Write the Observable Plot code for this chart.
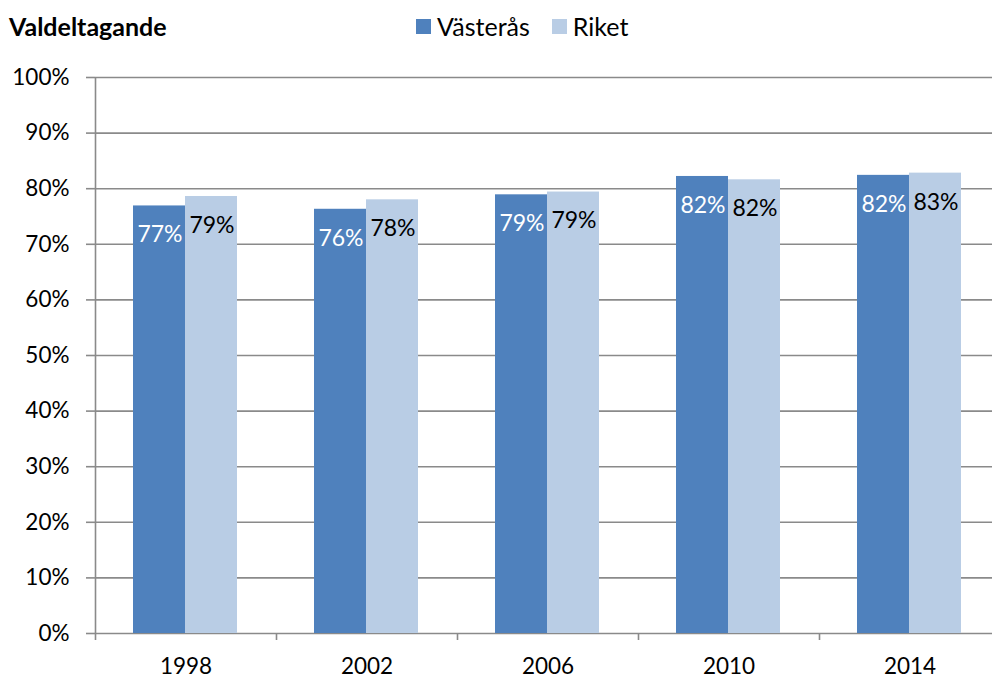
<!DOCTYPE html>
<html><head><meta charset="utf-8">
<script src="https://cdn.jsdelivr.net/npm/d3@7"></script>
<script src="https://cdn.jsdelivr.net/npm/@observablehq/plot@0.6"></script>
<style>
body{margin:0;background:#fff;overflow:hidden;font-family:Lato,sans-serif;color:#000;}
#wrap{position:relative;width:992px;height:678px;overflow:hidden;}
#title{position:absolute;left:9px;top:11px;font-weight:bold;font-size:25px;line-height:30px;}
#legend{position:absolute;left:416px;top:11px;font-size:25px;line-height:30px;display:flex;align-items:center;}
.sw{display:inline-block;width:15px;height:15px;margin-right:6px;}
.item{display:flex;align-items:center;margin-right:22px;}
#chart{position:absolute;left:0;top:60px;}
</style></head><body>
<div id="wrap"><div id="title">Valdeltagande</div><div id="legend"></div><div id="chart"></div></div>
<script>
const years = ["1998", "2002", "2006", "2010", "2014"];
const vasteras = [0.769, 0.763, 0.789, 0.822, 0.824];
const riket = [0.786, 0.780, 0.794, 0.816, 0.828];
const series = ["Västerås", "Riket"];
const colors = ["#4F81BD", "#B9CDE5"];
const yTicks = [0, 0.1, 0.2, 0.3, 0.4, 0.5, 0.6, 0.7, 0.8, 0.9, 1.0];

const dataV = years.map((y, i) => ({year: y, value: vasteras[i]}));
const dataR = years.map((y, i) => ({year: y, value: riket[i]}));

const W = 1000, ML = 95, MR = 0;
const step = (W - ML - MR) / years.length;
const fmt = d3.format(".0%");
const grid = "#8a8a8a";

const legend = document.getElementById("legend");
series.forEach((s, i) => {
  const it = document.createElement("span");
  it.className = "item";
  it.innerHTML = `<span class="sw" style="background:${colors[i]}"></span>${s}`;
  legend.appendChild(it);
});

const chart = Plot.plot({
  width: W,
  height: 618,
  marginTop: 17,
  marginBottom: 45,
  marginLeft: ML,
  marginRight: MR,
  style: {fontFamily: "Lato, sans-serif", fontSize: "22px", color: "#000", background: "#fff", overflow: "visible", maxWidth: "none"},
  x: {type: "band", domain: years, padding: 0, label: null},
  y: {domain: [0, 1], label: null},
  marks: [
    Plot.ruleY(yTicks, {stroke: grid, strokeWidth: 1.6}),
    Plot.barY(dataV, {x: "year", y: "value", fill: colors[0], insetLeft: 38, insetRight: step - 90}),
    Plot.barY(dataR, {x: "year", y: "value", fill: colors[1], insetLeft: 90, insetRight: step - 142}),
    Plot.ruleX(years.slice(0, 1), {x: d => d, dx: -step / 2, y1: 1, y2: 0, insetBottom: -7, stroke: grid, strokeWidth: 1.6}),
    Plot.ruleX(years.slice(1), {x: d => d, dx: -step / 2, y1: 0, y2: 0, insetBottom: -7, stroke: grid, strokeWidth: 1.6}),
    Plot.text(dataV, {x: "year", y: "value", text: d => fmt(d.value), dx: -26, dy: 29, fill: "#fff", fontSize: 23}),
    Plot.text(dataR, {x: "year", y: "value", text: d => fmt(d.value), dx: 26, dy: 29, fill: "#000", fontSize: 23}),
    Plot.axisY({ticks: yTicks, tickFormat: fmt, tickSize: 9, tickPadding: 17, fontSize: 22.5, stroke: grid, strokeWidth: 1.6, strokeOpacity: 1, label: null}),
    Plot.axisX({tickSize: 0, tickPadding: 25, fontSize: 22.5, label: null})
  ]
});
document.getElementById("chart").appendChild(chart);
</script>
</body></html>
